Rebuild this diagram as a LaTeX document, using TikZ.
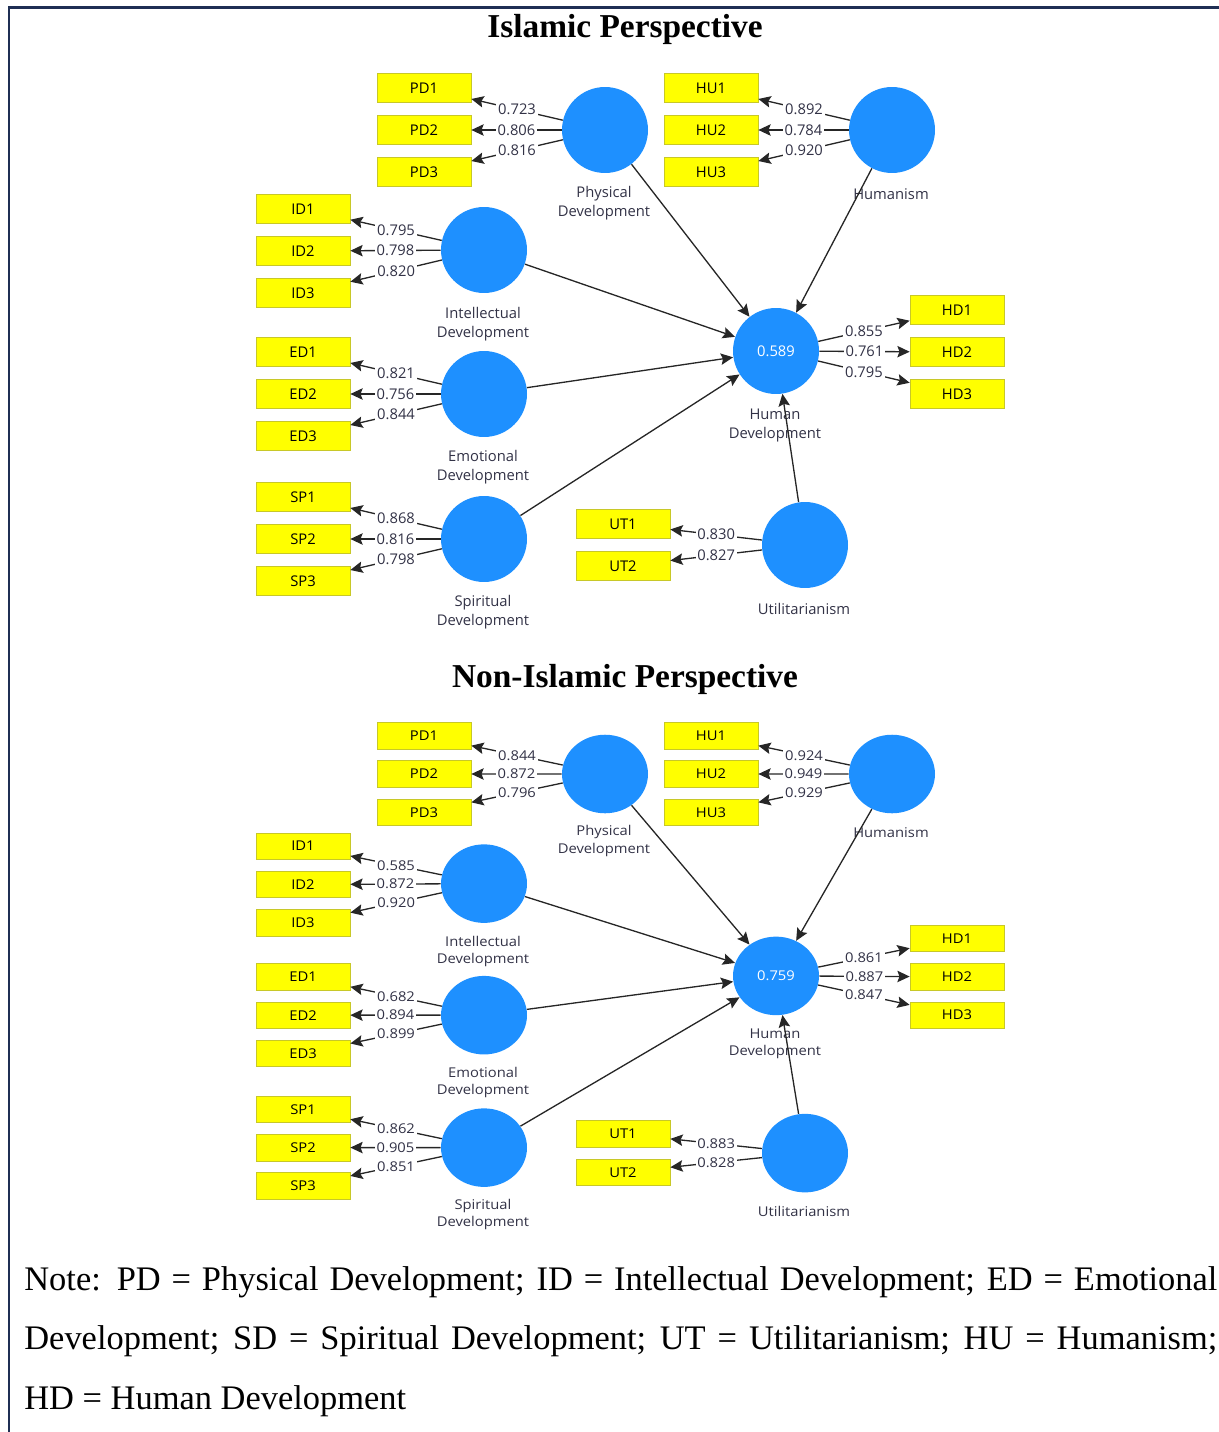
\documentclass[tikz,border=0pt]{standalone}
\usepackage{fontspec}
\setmainfont{Liberation Serif}
\newfontfamily\plsfont{Open Sans}
\usetikzlibrary{arrows.meta}

\definecolor{lvblue}{RGB}{30,144,255}
\definecolor{indyellow}{RGB}{255,255,0}
\definecolor{indline}{RGB}{200,200,40}
\definecolor{framenavy}{RGB}{31,47,84}
\definecolor{numgray}{RGB}{50,50,70}

\tikzset{
 lv/.style={circle,fill=lvblue,minimum size=1.72cm,inner sep=0pt,text=white,font=\plsfont\fontsize{8.4}{10}\selectfont},
 ind/.style={draw=indline,fill=indyellow,minimum width=1.88cm,minimum height=0.58cm,inner sep=0pt,font=\plsfont\fontsize{8.4}{10}\selectfont},
 lvlab/.style={align=center,text=numgray,font=\plsfont\fontsize{8.4}{10.8}\selectfont},
 ld/.style={fill=white,inner sep=1pt,pos=0.5,text=numgray,font=\plsfont\fontsize{8.4}{10}\selectfont},
 lnk/.style={draw=black!85,line width=0.75pt,-{Stealth[length=7pt,width=6.5pt,inset=1.2pt]}},
 ttl/.style={font=\bfseries\fontsize{19}{22}\selectfont}
}

% #1 prefix, #2 R2, #3 PD, #4 HU, #5 ID, #6 ED, #7 SP, #8 HD, #9 UT
\newcommand{\plsmodel}[9]{%
 \node[lv] (#1PD) at (605,130) {};
 \node[lv] (#1HU) at (892,130) {};
 \node[lv] (#1ID) at (484,250) {};
 \node[lv] (#1ED) at (484,394) {};
 \node[lv] (#1SP) at (484,539) {};
 \node[lv] (#1HD) at (776,351) {#2};
 \node[lv] (#1UT) at (805,545) {};
 \node[lvlab] (#1PDlab) at (604,203.5) {Physical\\Development};
 \node[lvlab] (#1HUlab) at (891,194) {Humanism};
 \node[lvlab] (#1IDlab) at (483,324.5) {Intellectual\\Development};
 \node[lvlab] (#1EDlab) at (483,467.5) {Emotional\\Development};
 \node[lvlab] (#1SPlab) at (483,612.5) {Spiritual\\Development};
 \node[lvlab] (#1HDlab) at (775,425.5) {Human\\Development};
 \node[lvlab] (#1UTlab) at (804,609) {Utilitarianism};
 \foreach \v [count=\i] in {#3} {
  \node[ind] (#1PD\i) at (424,{46+42*\i}) {PD\i};
  \draw[lnk] (#1PD) -- node[ld] {\v} (#1PD\i);
 }
 \foreach \v [count=\i] in {#4} {
  \node[ind] (#1HU\i) at (711,{46+42*\i}) {HU\i};
  \draw[lnk] (#1HU) -- node[ld] {\v} (#1HU\i);
 }
 \foreach \v [count=\i] in {#5} {
  \node[ind] (#1ID\i) at (303,{167+42*\i}) {ID\i};
  \draw[lnk] (#1ID) -- node[ld] {\v} (#1ID\i);
 }
 \foreach \v [count=\i] in {#6} {
  \node[ind] (#1ED\i) at (303,{310+42*\i}) {ED\i};
  \draw[lnk] (#1ED) -- node[ld] {\v} (#1ED\i);
 }
 \foreach \v [count=\i] in {#7} {
  \node[ind] (#1SP\i) at (303,{455+42*\i}) {SP\i};
  \draw[lnk] (#1SP) -- node[ld] {\v} (#1SP\i);
 }
 \foreach \v [count=\i] in {#8} {
  \node[ind] (#1HD\i) at (957,{268+42*\i}) {HD\i};
  \draw[lnk] (#1HD) -- node[ld] {\v} (#1HD\i);
 }
 \foreach \v [count=\i] in {#9} {
  \node[ind] (#1UT\i) at (623,{482+42*\i}) {UT\i};
  \draw[lnk] (#1UT) -- node[ld] {\v} (#1UT\i);
 }
 \foreach \s in {PD,HU,ID,ED,SP,UT}
  \draw[lnk] (#1\s) -- (#1HD);
}

\begin{document}
\begin{tikzpicture}[x=0.02cm,y=-0.02cm]
\useasboundingbox (0,0) rectangle (1219,1432);
\clip (0,0) rectangle (1219,1432);
\draw[framenavy,line width=1.7pt] (9,1440) -- (9,8) -- (1230,8);

\node[ttl] (ttlA) at (625,29) {Islamic Perspective};
\plsmodel{a}{0.589}{0.723,0.806,0.816}{0.892,0.784,0.920}{0.795,0.798,0.820}{0.821,0.756,0.844}{0.868,0.816,0.798}{0.855,0.761,0.795}{0.830,0.827}

\node[ttl] (ttlB) at (625,679) {Non-Islamic Perspective};
\begin{scope}[shift={(0,655.25)},yscale=0.9135,transform shape]
\plsmodel{b}{0.759}{0.844,0.872,0.796}{0.924,0.949,0.929}{0.585,0.872,0.920}{0.682,0.894,0.899}{0.862,0.905,0.851}{0.861,0.887,0.847}{0.883,0.828}
\end{scope}

\node[anchor=north west,inner sep=0pt,text width=679pt,align=justify,font=\fontsize{19.6}{34}\selectfont] (note) at (24,1266)
 {Note: PD = Physical Development; ID = Intellectual Development; ED = Emotional\linebreak
 Development; SD = Spiritual Development; UT = Utilitarianism; HU = Humanism;\linebreak
 HD = Human Development};
\end{tikzpicture}
\end{document}
